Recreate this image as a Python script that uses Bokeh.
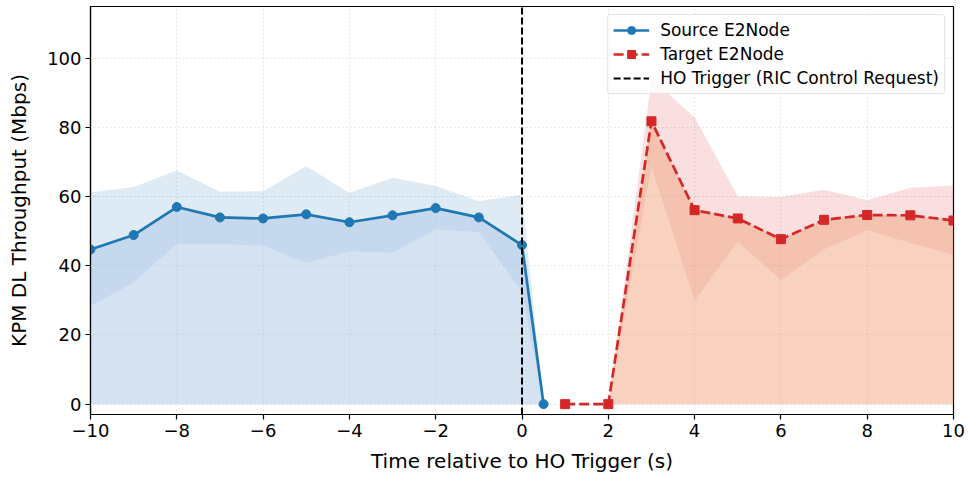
from bokeh.plotting import figure
from bokeh.models import Range1d, FixedTicker, Legend, LegendItem
from bokeh.embed import file_html
from bokeh.resources import INLINE

# ---- data ----
src_t = [-10, -9, -8, -7, -6, -5, -4, -3, -2, -1, 0, 0.5]
src_mean = [44.7, 48.9, 57.0, 54.0, 53.7, 54.9, 52.6, 54.6, 56.7, 54.0, 46.0, 0.0]
src_low = [28.4, 35.2, 46.3, 46.4, 45.8, 40.8, 44.2, 43.8, 50.6, 49.7, 32.5, 0.0]
src_high = [61.2, 62.8, 67.6, 61.4, 61.6, 68.8, 61.1, 65.5, 63.1, 58.7, 60.6, 0.0]

tgt_t = [1, 2, 3, 4, 5, 6, 7, 8, 9, 10]
tgt_mean = [0.0, 0.0, 81.8, 56.1, 53.7, 47.7, 53.3, 54.7, 54.6, 53.1]
tgt_low = [0.0, 0.0, 68.8, 29.9, 47.0, 35.8, 44.7, 50.3, 46.6, 43.1]
tgt_high = [0.0, 0.0, 94.0, 83.0, 60.1, 59.9, 62.0, 59.0, 62.6, 63.2]

ho_time = 0
x_lim = (-10, 10)
y_lim = (-3, 115)
x_ticks = [-10, -8, -6, -4, -2, 0, 2, 4, 6, 8, 10]
y_ticks = [0, 20, 40, 60, 80, 100]

FONT = "DejaVu Sans"
BLUE = "#1f77b4"
RED = "#d62728"

p = figure(width=968, height=477, output_backend="svg", toolbar_location=None,
           x_range=Range1d(*x_lim), y_range=Range1d(*y_lim),
           min_border_left=90, min_border_right=15, min_border_top=6, min_border_bottom=63)
p.background_fill_color = "white"
p.border_fill_color = "white"
p.outline_line_color = "black"
p.outline_line_width = 1.2

# fills
p.varea(x=src_t, y1=src_low, y2=src_high, fill_color=BLUE, fill_alpha=0.15)
p.varea(x=src_t, y1=[0] * len(src_t), y2=src_mean, fill_color="#abc5e5", fill_alpha=0.5)
p.varea(x=tgt_t, y1=tgt_low, y2=tgt_high, fill_color=RED, fill_alpha=0.15)
p.varea(x=tgt_t, y1=[0] * len(tgt_t), y2=tgt_mean, fill_color="#f1a57f", fill_alpha=0.5)

# lines
src_line = p.line(src_t, src_mean, line_color=BLUE, line_width=2.7)
src_pts = p.scatter(src_t, src_mean, marker="circle", size=9, fill_color=BLUE, line_color=BLUE)
tgt_line = p.line(tgt_t, tgt_mean, line_color=RED, line_width=2.7, line_dash="10 4")
tgt_pts = p.scatter(tgt_t, tgt_mean, marker="square", size=9, fill_color=RED, line_color=RED)
ho_line = p.line([ho_time, ho_time], list(y_lim), line_color="black", line_width=2, line_dash="7 3")

# axes
for ax in (p.xaxis[0], p.yaxis[0]):
    ax.major_label_text_font = FONT
    ax.major_label_text_font_size = "18px"
    ax.major_label_text_color = "black"
    ax.axis_label_text_font = FONT
    ax.axis_label_text_font_size = "20px"
    ax.axis_label_text_font_style = "normal"
    ax.axis_label_text_color = "black"
    ax.axis_line_color = "black"
    ax.axis_line_width = 1.2
    ax.major_tick_line_color = "black"
    ax.major_tick_line_width = 1.2
    ax.major_tick_out = 5
    ax.major_tick_in = 0
    ax.minor_tick_line_color = None

p.xaxis.ticker = FixedTicker(ticks=x_ticks)
p.yaxis.ticker = FixedTicker(ticks=y_ticks)
p.xaxis.major_label_overrides = {t: (str(t).replace("-", "\u2212")) for t in x_ticks}
p.yaxis.major_label_overrides = {t: str(t) for t in y_ticks}
p.xaxis.axis_label = "Time relative to HO Trigger (s)"
p.yaxis.axis_label = "KPM DL Throughput (Mbps)"
p.xaxis.major_label_standoff = 4
p.yaxis.major_label_standoff = 4
p.xaxis.axis_label_standoff = 9
p.yaxis.axis_label_standoff = 13

# grid
for g in (p.xgrid[0], p.ygrid[0]):
    g.grid_line_color = "#b0b0b0"
    g.grid_line_alpha = 0.6
    g.grid_line_dash = "1 3"
    g.grid_line_width = 1
p.xgrid.ticker = FixedTicker(ticks=x_ticks)
p.ygrid.ticker = FixedTicker(ticks=y_ticks)

legend = Legend(items=[
    LegendItem(label="Source E2Node", renderers=[src_line, src_pts]),
    LegendItem(label="Target E2Node", renderers=[tgt_line, tgt_pts]),
    LegendItem(label="HO Trigger (RIC Control Request)", renderers=[ho_line]),
], location="top_right")
legend.margin = 8
legend.padding = 5
legend.spacing = 4
legend.glyph_width = 36
legend.glyph_height = 20
legend.label_height = 20
legend.label_standoff = 11
legend.label_text_font = FONT
legend.label_text_font_size = "17px"
legend.label_text_color = "black"
legend.border_line_color = "#cccccc"
legend.border_line_width = 1
legend.background_fill_alpha = 0.8
legend.border_radius = 3
p.add_layout(legend)

open("out.html", "w").write(file_html(p, INLINE))
